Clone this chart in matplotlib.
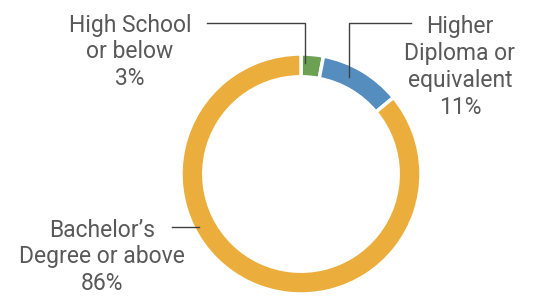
import matplotlib.pyplot as plt

labels = ["High School\nor below", "Higher\nDiploma or\nequivalent", "Bachelor\u2019s\nDegree or above"]
shares = [3, 11, 86]
colors = ["#6ca152", "#558dbe", "#ebae3c"]

W, H = 534, 298
fig = plt.figure(figsize=(W / 100, H / 100), dpi=100)
ax = fig.add_axes([0, 0, 1, 1])

cx, cy, r = 301, H - 174, 120
ax.pie(shares, colors=colors, startangle=90, counterclock=False,
       center=(cx, cy), radius=r, frame=True,
       wedgeprops=dict(width=r * 0.19, edgecolor="white", linewidth=2.5))
ax.set_xlim(0, W)
ax.set_ylim(0, H)
ax.set_aspect("equal")
ax.axis("off")

txt = dict(fontsize=16.5, color="#595959", family="Roboto",
           ha="center", va="center", linespacing=1.22)
lc = "#404040"

ax.text(130, H - 52, f"{labels[0]}\n{shares[0]}%", **txt)
ax.plot([207, 305, 305], [H - 23, H - 23, H - 63], color=lc, lw=1)

ax.text(460, H - 67, f"{labels[1]}\n{shares[1]}%", **txt)
ax.plot([411, 349, 349], [H - 23, H - 23, H - 77], color=lc, lw=1)

ax.text(102, H - 257, f"{labels[2]}\n{shares[2]}%", **txt)
ax.plot([172, 199], [H - 227, H - 227], color=lc, lw=1)

fig.savefig("out.png", dpi=100)
